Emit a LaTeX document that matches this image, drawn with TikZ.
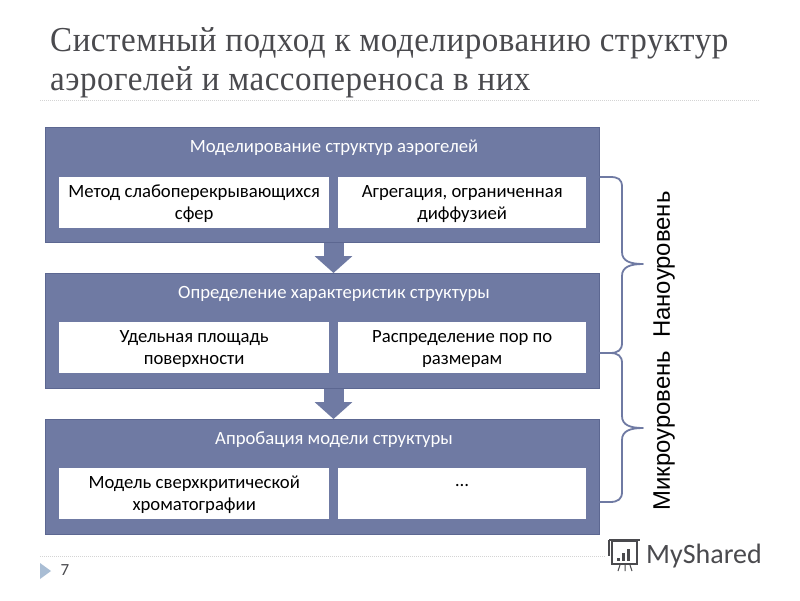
\documentclass[tikz,border=0pt]{standalone}
\usepackage{fontspec}
\setmainfont{Carlito}
\newfontfamily\titlefont[FakeStretch=.945,LetterSpace=1.5]{Liberation Serif}
\newfontfamily\sidefont{Liberation Sans}
\usetikzlibrary{arrows.meta}
\newcommand\toppad{\rule{0pt}{15.5pt}}
\definecolor{panelblue}{HTML}{6F7AA3}
\definecolor{paneledge}{HTML}{5C6791}
\definecolor{titlegray}{HTML}{4A4A4E}
\definecolor{rulegray}{HTML}{D4D4D4}
\definecolor{markblue}{HTML}{A9BDD4}
\tikzset{
  panel/.style={draw=paneledge,line width=1pt,fill=panelblue,inner sep=0pt,anchor=north west,minimum width=554pt,minimum height=115pt},
  panelhead/.style={text=white,font=\fontsize{18.7}{22}\selectfont,inner sep=0pt,anchor=center},
  inbox/.style={fill=white,inner sep=0pt,anchor=north west,minimum height=51pt,align=center,text=black,font=\fontsize{18.7}{22}\selectfont},
  flow/.style={draw=panelblue,line width=20pt,-{Triangle[width=37pt,length=17pt,fill=panelblue]},shorten >=0pt},
  bracket/.style={draw=panelblue,line width=1.8pt,line cap=round,line join=round},
  dotrule/.style={draw=rulegray,line width=.8pt,dash pattern=on 1pt off 1pt},
  slidetitle/.style={text=titlegray,inner sep=0pt,anchor=west,font=\titlefont\fontsize{35}{40}\selectfont},
}
\begin{document}
\begin{tikzpicture}[x=1pt,y=-1pt]
\useasboundingbox (0,0) rectangle (800,600);
\fill[white] (0,0) rectangle (800,600);
% title
\node[slidetitle] (t1) at (50,43) {Системный подход к моделированию структур};
\node[slidetitle] (t2) at (50,82) {аэрогелей и массопереноса в них};
\coordinate (r1a) at (40,100); \coordinate (r1b) at (760,100);
\draw[dotrule] (r1a) -- (r1b);
% panels
\node[panel] (p1) at (45,127) {};
\node[panel] (p2) at (45,273) {};
\node[panel] (p3) at (45,419) {};
\node[panelhead] (h1) at (334,148) {Моделирование структур аэрогелей};
\node[panelhead] (h2) at (334,294) {Определение характеристик структуры};
\node[panelhead] (h3) at (334,440) {Апробация модели структуры};
\node[inbox,minimum width=270pt] (a1) at (59,177) {\toppad Метод слабоперекрывающихся\\сфер};
\node[inbox,minimum width=248pt] (b1) at (338,177) {\toppad Агрегация, ограниченная\\диффузией};
\node[inbox,minimum width=270pt] (a2) at (59,322) {\toppad Удельная площадь\\поверхности};
\node[inbox,minimum width=248pt] (b2) at (338,322) {\toppad Распределение пор по\\размерам};
\node[inbox,minimum width=270pt] (a3) at (59,468) {\toppad Модель сверхкритической\\хроматографии};
\node[inbox,minimum width=248pt,anchor=north west] (b3) at (338,468) {};
\node[text=black,inner sep=0pt,font=\fontsize{18.7}{22}\selectfont] (b3t) at (462,486) {…};
% arrows
\draw[flow] (333.5,243) -- (333.5,273);
\draw[flow] (333.5,389) -- (333.5,419);
% brackets
\coordinate (n1) at (600,177); \coordinate (n2) at (643,264); \coordinate (n3) at (600,353);
\coordinate (m2) at (643,428); \coordinate (m3) at (600,502);
\draw[bracket] (n1) -- (610,177) .. controls (618,177) and (622,179) .. (622,187) -- (622,252)
  .. controls (622,261) and (630,264) .. (n2) .. controls (630,264) and (622,267) .. (622,276)
  -- (622,343) .. controls (622,350) and (618,353) .. (610,353) -- (n3);
\draw[bracket] (n3) -- (610,353) .. controls (618,353) and (622,356) .. (622,363) -- (622,416)
  .. controls (622,425) and (630,428) .. (m2) .. controls (630,428) and (622,431) .. (622,440)
  -- (622,492) .. controls (622,499) and (618,502) .. (610,502) -- (m3);
\node[rotate=90,inner sep=0pt,text=black,font=\sidefont\fontsize{23.9}{28}\selectfont] (side) at (664,351) {Микроуровень\ \ Наноуровень};
% footer
\coordinate (r2a) at (40,556); \coordinate (r2b) at (760,556);
\draw[dotrule] (r2a) -- (r2b);
\fill[markblue] (40,563) -- (51,571) -- (40,579) -- cycle;
\node[text=titlegray,inner sep=0pt,font=\fontsize{17}{20}\selectfont] (pg) at (65,570) {7};
% logo
\fill[white] (606,536) rectangle (766,574);
\draw[titlegray,line width=1.3pt] (612,541) rectangle (637,564);
\draw[titlegray,line width=1.3pt] (609,540) -- (640,540);
\draw[titlegray,line width=1.3pt] (609,540) -- (609,556);
\fill[titlegray] (617,558) rectangle (619.5,561);
\fill[titlegray] (622,553) rectangle (624.5,561);
\fill[titlegray] (627,549) rectangle (630,561);
\draw[titlegray,line width=1pt] (620,565) -- (618,571) (625,565) -- (625,571) (630,565) -- (632,571);
\node[text=titlegray,inner sep=0pt,anchor=west,font=\fontsize{28}{32}\selectfont] (logo) at (646,556) {MyShared};
\end{tikzpicture}
\end{document}
